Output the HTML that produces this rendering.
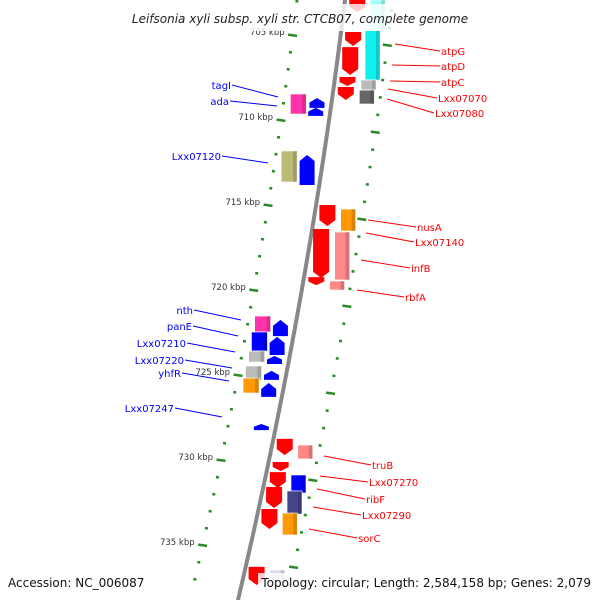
<!DOCTYPE html>
<html><head><meta charset="utf-8"><style>
body{margin:0;background:#fff}
svg{display:block}
text{font-family:"DejaVu Sans","Liberation Sans",sans-serif}
</style></head><body>
<svg id="map" width="600" height="600" viewBox="0 0 600 600">
<defs>
<linearGradient id="bbg" x1="0" x2="1"><stop offset="0" stop-color="#555"/><stop offset="0.5" stop-color="#aaa"/><stop offset="1" stop-color="#666"/></linearGradient>
</defs>
<g id="ticks"></g>
<path id="backbone" fill="none" stroke="#888" stroke-width="4"/>
<g id="genes"></g>
<g id="labels"></g>
<rect x="106" y="4" width="388" height="27" fill="#fff" opacity="0.8"/>
<text x="300" y="23" text-anchor="middle" font-size="12" font-style="italic" fill="#222">Leifsonia xyli subsp. xyli str. CTCB07, complete genome</text>
<text x="8" y="587" font-size="12" fill="#111">Accession: NC_006087</text>
<rect x="258" y="573" width="336" height="20" fill="#fff" opacity="0.8"/>
<text x="591" y="587" text-anchor="end" font-size="12" fill="#111">Topology: circular; Length: 2,584,158 bp; Genes: 2,079</text>
</svg>
<script>
const tickKbp = [703,704,705,706,707,708,709,710,711,712,713,714,715,716,717,718,719,720,721,722,723,724,725,726,727,728,729,730,731,732,733,734,735,736,737];
const majorKbp = [705,710,715,720,725,730,735];
// genes: [start kbp, end kbp]
const geneNames = ["g1","g2","g3","g4","g5","atpG","atpD","atpC","Lxx07070","Lxx07080","tagI","ada","tagIb","Lxx07120","Lxx07120b","nusAa","nusA","infBa","Lxx07140","rbfAa","rbfA","nth","panE","Lxx07210","Lxx07220","yhfR","nthA","panEA","Lxx07210A","Lxx07220A","yhfRA","Lxx07247","truBa","truB","c1","c2","Lxx07270","c3","ribF","c4","Lxx07290","d1","d2"];
const geneStart = [702.94,704.82,705.71,707.47,708.06,702.94,704.71,707.65,708.24,708.24,708.47,708.71,709.29,711.82,712.06,715.0,715.24,716.41,716.59,719.24,719.47,721.53,722.47,723.59,724.47,725.18,721.76,722.76,723.88,724.76,725.47,727.88,728.76,729.12,730.12,730.71,730.88,731.59,731.82,732.88,733.12,736.29,736.47];
const geneEnd   = [703.65,705.65,707.35,708.0,708.82,704.71,707.65,708.24,708.82,709.06,709.65,709.29,709.76,713.65,713.82,716.24,716.53,719.29,719.41,719.71,720.0,722.47,723.59,724.24,725.29,726.06,722.71,723.82,724.35,725.29,726.29,728.24,729.71,729.94,730.65,731.65,731.94,732.82,733.18,734.06,734.41,737.35,737.65];
// track: 0 = right inner arrow(down), 1 = right outer box, 2 = left inner arrow(up), 3 = left outer box
const geneTrack = [0,0,0,0,0,1,1,1,1,1,3,2,2,3,2,0,1,0,1,0,1,3,3,3,3,3,2,2,2,2,2,2,0,1,0,0,1,0,1,0,1,0,1];
const geneColor = ["#f00","#f00","#f00","#f00","#f00","#9ff","#1ee","#bbb","#666","#666","#f3a","#00f","#00f","#bb7","#00f","#f00","#f90","#f00","#f88","#f00","#f88","#f3a","#00f","#bbb","#bbb","#f90","#00f","#00f","#00f","#00f","#00f","#00f","#f00","#f88","#f00","#f00","#00f","#f00","#448","#f00","#f90","#f00","#dde"];
const labelText = ["atpG","atpD","atpC","Lxx07070","Lxx07080","nusA","Lxx07140","infB","rbfA","truB","Lxx07270","ribF","Lxx07290","sorC","tagI","ada","Lxx07120","nth","panE","Lxx07210","Lxx07220","yhfR","Lxx07247"];
const labelSide = [1,1,1,1,1,1,1,1,1,1,1,1,1,1,0,0,0,0,0,0,0,0,0];
const labelLine = [[395,44,440,51],[392,65,440,66],[390,81,440,82],[388,89,437,98],[387,99,434,113],[368,220,416,227],[366,233,414,242],[361,260,410,268],[357,290,404,297],[324,456,371,465],[320,476,368,482],[317,489,365,499],[313,507,361,515],[309,529,357,538],[232,85,278,97],[230,101,277,106],[222,156,268,163],[194,310,241,320],[193,326,238,336],[187,343,235,352],[185,360,232,368],[182,373,229,381],[175,408,222,417]];

const NS="http://www.w3.org/2000/svg";
function bb(y){return 345-0.1217*y-9.44e-5*y*y;}
function yL(k){return 35+(k-705)*17;}
function yR(k){return 45+(k-705)*17.4;}
function mk(tag,attrs,parent){const e=document.createElementNS(NS,tag);for(const a in attrs)e.setAttribute(a,attrs[a]);parent.appendChild(e);return e;}

let d="";for(let y=-5;y<=605;y+=5){d+=(y<0?"M":"L")+bb(y).toFixed(1)+","+y;}
document.getElementById("backbone").setAttribute("d",d);

const tg=document.getElementById("ticks");
tickKbp.forEach(k=>{
  const maj=majorKbp.includes(k);
  [[yL(k),-48],[yR(k),48]].forEach(([y,o])=>{
    const x=bb(y)+o, w=maj?9:3;
    const r=mk("rect",{x:x-w/2,y:y-1,width:w,height:2.5,fill:"#2a8a2a",transform:"rotate(8 "+x+" "+y+")"},tg);
    
    
  });
  if(maj){
    const y=yL(k);
    const t=mk("text",{x:bb(y)-56,y:y,"font-size":"8.5","text-anchor":"end",fill:"#333"},tg);
    t.textContent=k+" kbp";
    
    
  }
});

const gg=document.getElementById("genes");
geneNames.forEach((n,i)=>{
  const y0=yL(geneStart[i]), y1=yL(geneEnd[i]), tr=geneTrack[i];
  const xm=bb((y0+y1)/2);
  const off=[[5,21],[27,42],[-22,-7],[-41,-25]][tr];
  const x0=xm+off[0], x1=xm+off[1];
  let el;
  if(tr===1||tr===3){
    el=mk("rect",{x:x0,y:y0,width:x1-x0,height:y1-y0,fill:geneColor[i],stroke:"#fff","stroke-width":"0.7"},gg);
    mk("rect",{x:x1-4,y:y0,width:4,height:y1-y0,fill:"#000",opacity:"0.15"},gg);
  } else {
    const h=Math.min(6,(y1-y0)*0.45);
    const pts = tr===0
      ? [[x0,y0],[x1,y0],[x1,y1-h],[(x0+x1)/2,y1],[x0,y1-h]]
      : [[(x0+x1)/2,y0],[x1,y0+h],[x1,y1],[x0,y1],[x0,y0+h]];
    el=mk("polygon",{points:pts.map(p=>p.join(",")).join(" "),fill:geneColor[i]},gg);
  }
  
  
});

const lg=document.getElementById("labels");
labelText.forEach((t,i)=>{
  const L=labelLine[i], col=labelSide[i]?"#f00":"#00f";
  const ln=mk("line",{x1:L[0],y1:L[1],x2:L[2],y2:L[3],stroke:col,"stroke-width":"1"},lg);
  
  
  const tx=labelSide[i]?mk("text",{x:L[2]+1,y:L[3]+4,"font-size":"10",fill:col},lg):mk("text",{x:L[0]-1,y:L[1]+4,"font-size":"10",fill:col,"text-anchor":"end"},lg);
  tx.textContent=t;
  
  
});
</script>
</body></html>
